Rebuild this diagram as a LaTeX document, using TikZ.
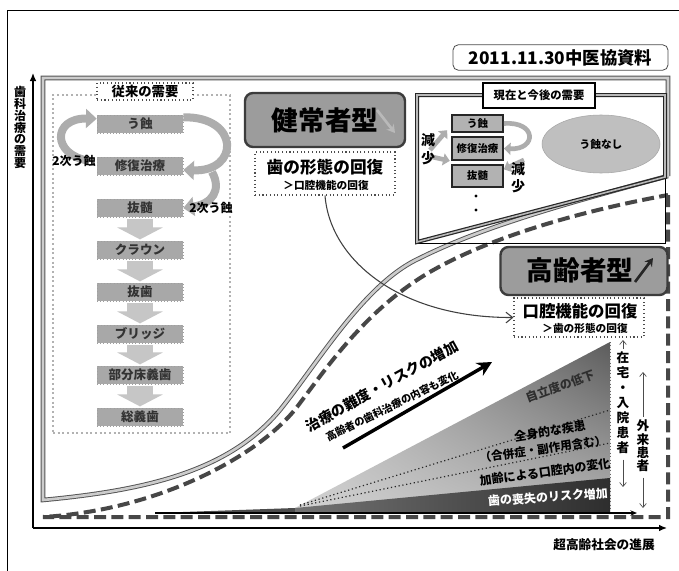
\documentclass[tikz,border=0pt]{standalone}
\usepackage{fontspec}
\setmainfont{Noto Sans CJK JP}
\usetikzlibrary{arrows.meta,shapes.geometric,shadings}
\newcommand\jfs[1]{\fontsize{#1}{#1}\selectfont}
\newcommand\jfsb[2]{\fontsize{#1}{#2}\selectfont}
\definecolor{boxgray}{HTML}{9C9C9C}
\definecolor{edgedark}{HTML}{3C3C3C}
\definecolor{stackgray}{HTML}{A8A8A8}
\definecolor{arcgray}{HTML}{ADADAD}
\begin{document}
\begin{tikzpicture}[x=0.75pt,y=-0.75pt,
  wh/.style 2 args={minimum width=#1*0.75pt,minimum height=#2*0.75pt},
  healthy/.style={draw=gray!65!black,double=gray!40,double distance=2pt,line width=0.7pt},
  elderly/.style={draw=black!72,line width=3pt,dash pattern=on 9pt off 4pt},
  stackbox/.style={wh={86}{18},inner sep=0pt,fill=stackgray,draw=gray!75,dotted,font=\jfs{9.4}\bfseries,text=black!80},
  downarr/.style={draw=gray!45,line width=19pt,-{Triangle[width=34pt,length=9pt]},shorten <=1.5pt,shorten >=1pt},
  arcarrow/.style={draw=arcgray,line width=6pt,-{Triangle[width=14pt,length=8pt]}},
  smallarc/.style={draw=arcgray,line width=3.5pt,-{Triangle[width=9pt,length=5pt]}},
  typebox/.style={rounded corners=6pt,fill=boxgray,draw=edgedark,line width=1.8pt,inner sep=0pt},
  dotbox/.style={draw=gray!60!black,dotted,line width=0.8pt,fill=white,inner sep=0pt},
  rbox/.style={fill=gray!60,draw=black!85,line width=1.3pt,font=\jfs{7.8}\bfseries,inner sep=0pt},
  thinarr/.style={draw=black!70,line width=0.5pt,-{Straight Barb[length=3pt,width=5pt]}}]
\useasboundingbox (0,0) rectangle (679,571);
\fill[white] (0,0) rectangle (679,571);
% outer frame
\draw[line width=0.7pt] (7,571) -- (7,10) -- (679,10);
% box "present and future" background
\fill[white] (417,95) rectangle (665,243);
% healthy region (solid double)
\draw[healthy] (668,176) -- (668,78) -- (43,78) -- (43,500)
  .. controls (150,490) and (230,470) .. (280,410)
  .. controls (320,360) and (365,283) .. (420,258)
  .. controls (480,228) and (560,205) .. (668,176);
% elderly region (dashed)
\draw[elderly] (668,195) -- (668,517) -- (43,517)
  .. controls (160,510) and (260,455) .. (297,407)
  .. controls (325,370) and (360,318) .. (417,280)
  .. controls (470,245) and (560,215) .. (668,195);
% wedge
\coordinate (w0) at (155,513);
\coordinate (w1) at (295,508);
\coordinate (wt) at (610,342);
\coordinate (wb) at (610,513);
\fill[black!70] (w0) -- (w1) -- (295,513) -- cycle;
\shade[lower left=gray!35,lower right=gray!60,upper left=gray!50,upper right=black!64]
  (w1) -- (wt) -- (wb) -- (295,513) -- cycle;
\shade[left color=black!55,right color=black!82] (w1) -- (610,478) -- (wb) -- (295,513) -- cycle;
\draw[black!85,dotted,line width=0.9pt] (300,505) -- (610,410);
\draw[black!85,dotted,line width=0.9pt] (300,506) -- (610,443);
\draw[black!60,dotted,line width=0.6pt] (wt) -- (wb);
\node[rotate=20,font=\jfs{9}\bfseries,text=black!82] (t1) at (560,386) {自立度の低下};
\node[rotate=9,font=\jfs{9}\bfseries] (t2) at (550,431) {全身的な疾患};
\node[rotate=8,font=\jfs{8.7}\bfseries] (t3) at (543,449) {（合併症・副作用含む）};
\node[rotate=8,font=\jfs{9}\bfseries] (t4) at (545,472) {加齢による口腔内の変化};
\node[rotate=4,font=\jfs{9}\bfseries,text=white] (t5) at (548,497) {歯の喪失のリスク増加};
\coordinate (bend) at (637,513);
\draw[line width=0.8pt,-{Stealth[length=5pt,width=4pt]}] (w0) -- (bend);
% axes
\coordinate (O) at (33,528);
\coordinate (ytop) at (33,73);
\coordinate (xend) at (667,528);
\draw[line width=1pt,-{Latex[length=6pt,width=5pt]}] (O) -- (ytop);
\draw[line width=1pt,-{Latex[length=6pt,width=5pt]}] (O) -- (xend);
\node[align=center,inner sep=0pt,font=\jfsb{9}{8.85}\bfseries] (ylab) at (20,127.5) {歯\\科\\治\\療\\の\\需\\要};
\node[font=\jfs{9.5}\bfseries] (xlab) at (604,545) {超高齢社会の進展};
% traditional demand box
\node[draw=gray!60,dotted,line width=1.5pt,fill=white,wh={177}{338}] (old) at (141.5,264) {};
\node[dotbox,wh={96}{17},font=\jfs{10}\bfseries] (oldt) at (145,91.5) {従来の需要};
\node[stackbox] (s1) at (140,124) {う蝕};
\node[stackbox] (s2) at (140,166) {修復治療};
\node[stackbox] (s3) at (140,208) {抜髄};
\node[stackbox] (s4) at (140,250) {クラウン};
\node[stackbox] (s5) at (140,292) {抜歯};
\node[stackbox] (s6) at (140,334) {ブリッジ};
\node[stackbox] (s7) at (140,375) {部分床義歯};
\node[stackbox] (s8) at (140,417) {総義歯};
\draw[downarr] (s3.south) -- (s4.north);
\draw[downarr] (s4.south) -- (s5.north);
\draw[downarr] (s5.south) -- (s6.north);
\draw[downarr] (s6.south) -- (s7.north);
\draw[downarr] (s7.south) -- (s8.north);
\draw[arcarrow] ([xshift=-6pt,yshift=4pt]s2.west) .. controls (52,155) and (52,118) .. ([yshift=4pt]s1.west);
\draw[arcarrow] ([yshift=5pt]s1.east) .. controls (240,116) and (240,172) .. ([yshift=-3pt]s2.east);
\draw[arcarrow] (212,172) .. controls (222,190) and (212,204) .. (s3.east);
\node[font=\jfs{9}\bfseries] (sec1) at (74,161) {2次う蝕};
\node[font=\jfs{9}\bfseries] (sec2) at (211,208) {2次う蝕};
% healthy type box
\node[typebox,wh={160}{54},font=\jfs{20}\bfseries] (ken) at (325,120) {健常者型};
\coordinate (ka) at (377,110);
\coordinate (kb) at (395,133);
\draw[draw=gray!55,line width=2pt,-{Stealth[length=6pt,width=7pt]}] (ka) -- (kb);
\node[dotbox,wh={140}{43}] (kei) at (325,173.5) {};
\node[font=\jfs{12.5}\bfseries] at (325,167) {歯の形態の回復};
\node[font=\jfs{8}\bfseries] at (326,185) {＞口腔機能の回復};
% elderly type box
\node[typebox,wh={167}{48}] (kou) at (584,271) {};
\node[font=\jfs{20}\bfseries] at (580,270) {高齢者型};
\coordinate (ea) at (635,282);
\coordinate (eb) at (653,258);
\draw[draw=black!85,line width=2pt,-{Stealth[length=6pt,width=7pt]}] (ea) -- (eb);
\node[dotbox,wh={130}{39}] (kk) at (579,317.5) {};
\node[font=\jfs{12.3}\bfseries] at (580,311) {口腔機能の回復};
\node[font=\jfs{8}\bfseries] at (585,328) {＞歯の形態の回復};
% date
\node[draw=black!70,rounded corners=4pt,wh={215}{25},line width=0.6pt,font=\jfs{13}\bfseries] (date) at (560.5,57.5) {2011.11.30中医協資料};
% present and future box
\draw[black,line width=0.5pt] (417,243) -- (665,243) -- (665,177);
\draw[draw=black!85,double=gray!55,double distance=1.2pt,line width=0.9pt] (665,177) -- (417,242) -- (417,95) -- (665,95) -- cycle;
\node[draw=black,line width=0.8pt,fill=white,wh={112}{25},font=\jfs{8.5}\bfseries] (gt) at (539,95.5) {現在と今後の需要};
\node[rbox,wh={51}{17}] (r1) at (477.5,123.5) {う蝕};
\node[rbox,wh={51}{23}] (r2) at (477.5,148.5) {修復治療};
\node[rbox,wh={51}{22}] (r3) at (477.5,176) {抜髄};
\fill (476,196) circle (1.3pt);
\fill (476,210) circle (1.3pt);
\node[ellipse,fill=gray!50,draw=gray!70,wh={118}{58},inner sep=0pt,font=\jfs{8}\bfseries] (none) at (601,144) {う蝕なし};
\draw[smallarc] (430,150) -- ([xshift=-3pt,yshift=2pt]r1.south west);
\draw[smallarc] (428,156) -- ([xshift=-1pt]r2.south west);
\draw[smallarc] (r1.east) .. controls (537,121) and (537,150) .. (r2.east);
\draw[smallarc] (524,160) -- ([yshift=5pt]r3.east);
\node[font=\jfs{10.5}\bfseries] (d1) at (428,140) {減};
\node[font=\jfs{10.5}\bfseries] (d2) at (428,158) {少};
\node[font=\jfs{10.5}\bfseries] (d3) at (518,169) {減};
\node[font=\jfs{10.5}\bfseries] (d4) at (518,186) {少};
% curved thin arrow
\draw[black!75,line width=0.8pt,-{Straight Barb[length=5pt,width=8pt]}] (kei.south) .. controls (330,260) and (400,318) .. (kk.west);
% big arrow
\coordinate (ba) at (343,448);
\coordinate (bb) at (492,362);
\draw[line width=2.6pt,-{Stealth[length=11pt,width=11pt]}] (ba) -- (bb);
\node[rotate=29,font=\jfs{10.7}\bfseries] (diff) at (382,386) {治療の難度・リスクの増加};
\node[rotate=26,font=\jfs{7.8}\bfseries] (diff2) at (392,406) {高齢者の歯科治療の内容も変化};
% right vertical labels
\node[align=center,inner sep=0pt,font=\jfsb{9.5}{11.25}\bfseries] (zt) at (623,403) {在\\宅\\・\\入\\院\\患\\者};
\node[align=center,inner sep=0pt,font=\jfsb{9.5}{10}\bfseries] (gr) at (643,446) {外\\来\\患\\者};
\coordinate (zup) at (623,340);
\coordinate (zdn) at (623,487);
\coordinate (gup) at (643,372);
\coordinate (gdn) at (643,508);
\draw[thinarr] ([yshift=2pt]zt.north) -- (zup);
\draw[thinarr] ([yshift=-4pt]zt.south) -- (zdn);
\draw[thinarr] ([yshift=2pt]gr.north) -- (gup);
\draw[thinarr] ([yshift=-4pt]gr.south) -- (gdn);
\end{tikzpicture}
\end{document}
